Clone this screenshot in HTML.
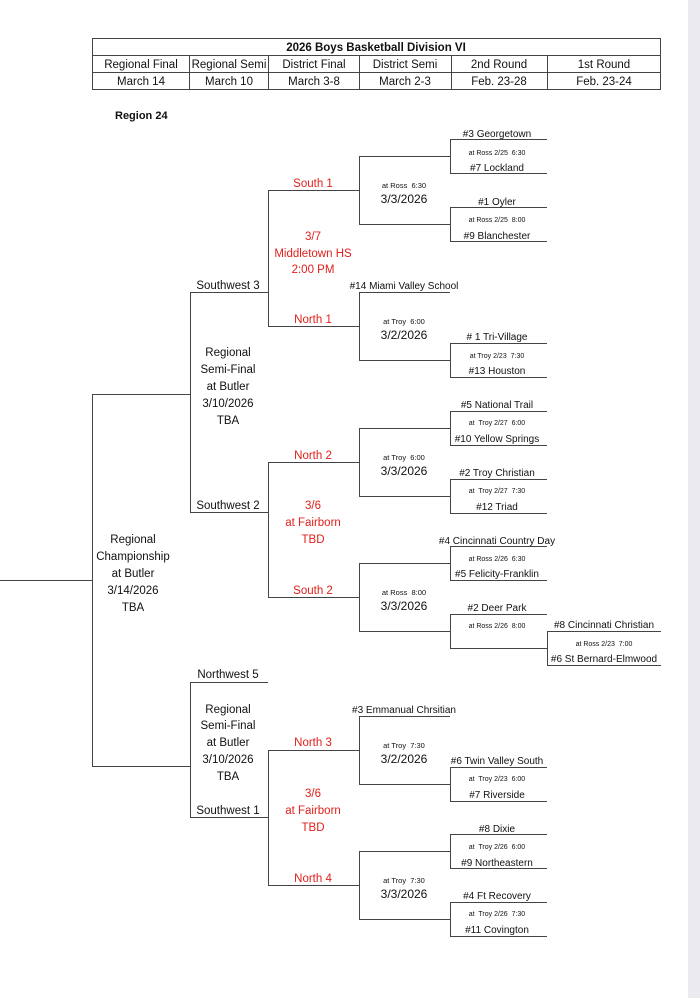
<!DOCTYPE html>
<html><head><meta charset="utf-8"><style>
html,body{margin:0;padding:0;background:#fff;}
svg{display:block;}
text{font-family:"Liberation Sans",sans-serif;fill:#111;white-space:pre;}
.t{font-size:10px;text-anchor:middle;}
.s{font-size:7px;text-anchor:middle;}
.d{font-size:12px;text-anchor:middle;}
.r{font-size:11.5px;text-anchor:middle;fill:#e0201c;}
.b{font-size:11.5px;text-anchor:middle;}
.h{font-size:11.5px;text-anchor:middle;}
</style></head><body>
<svg width="700" height="998" viewBox="0 0 700 998" xmlns="http://www.w3.org/2000/svg" xml:space="preserve">
<rect x="688" y="0" width="12" height="998" fill="#ebebef"/>
<g stroke="#444" stroke-width="1" fill="none">
<rect x="92.5" y="38.5" width="568" height="51"/>
<line x1="92" y1="55.5" x2="661" y2="55.5"/>
<line x1="92" y1="72.5" x2="661" y2="72.5"/>
<line x1="189.5" y1="55" x2="189.5" y2="89"/>
<line x1="268.5" y1="55" x2="268.5" y2="89"/>
<line x1="359.5" y1="55" x2="359.5" y2="89"/>
<line x1="451.5" y1="55" x2="451.5" y2="89"/>
<line x1="547.5" y1="55" x2="547.5" y2="89"/>
<line x1="0" y1="580.5" x2="92" y2="580.5"/>
<line x1="92.5" y1="394" x2="92.5" y2="767"/>
<line x1="92" y1="394.5" x2="190" y2="394.5"/>
<line x1="92" y1="766.5" x2="190" y2="766.5"/>
<line x1="190.5" y1="292" x2="190.5" y2="513"/>
<line x1="190" y1="292.5" x2="268" y2="292.5"/>
<line x1="190" y1="512.5" x2="268" y2="512.5"/>
<line x1="190.5" y1="682" x2="190.5" y2="818"/>
<line x1="190" y1="682.5" x2="268" y2="682.5"/>
<line x1="190" y1="817.5" x2="268" y2="817.5"/>
<line x1="268.5" y1="190" x2="268.5" y2="327"/>
<line x1="268" y1="190.5" x2="359" y2="190.5"/>
<line x1="268" y1="326.5" x2="359" y2="326.5"/>
<line x1="268.5" y1="462" x2="268.5" y2="598"/>
<line x1="268" y1="462.5" x2="359" y2="462.5"/>
<line x1="268" y1="597.5" x2="359" y2="597.5"/>
<line x1="268.5" y1="750" x2="268.5" y2="886"/>
<line x1="268" y1="750.5" x2="359" y2="750.5"/>
<line x1="268" y1="885.5" x2="359" y2="885.5"/>
<line x1="359.5" y1="156" x2="359.5" y2="225"/>
<line x1="359" y1="156.5" x2="450" y2="156.5"/>
<line x1="359" y1="224.5" x2="450" y2="224.5"/>
<line x1="359.5" y1="292" x2="359.5" y2="361"/>
<line x1="359" y1="292.5" x2="450" y2="292.5"/>
<line x1="359" y1="360.5" x2="450" y2="360.5"/>
<line x1="359.5" y1="428" x2="359.5" y2="497"/>
<line x1="359" y1="428.5" x2="450" y2="428.5"/>
<line x1="359" y1="496.5" x2="450" y2="496.5"/>
<line x1="359.5" y1="563" x2="359.5" y2="632"/>
<line x1="359" y1="563.5" x2="450" y2="563.5"/>
<line x1="359" y1="631.5" x2="450" y2="631.5"/>
<line x1="359.5" y1="716" x2="359.5" y2="785"/>
<line x1="359" y1="716.5" x2="450" y2="716.5"/>
<line x1="359" y1="784.5" x2="450" y2="784.5"/>
<line x1="359.5" y1="851" x2="359.5" y2="920"/>
<line x1="359" y1="851.5" x2="450" y2="851.5"/>
<line x1="359" y1="919.5" x2="450" y2="919.5"/>
<path d="M547 139.5H450.5V173.5H547"/>
<path d="M547 207.5H450.5V241.5H547"/>
<path d="M547 343.5H450.5V377.5H547"/>
<path d="M547 411.5H450.5V445.5H547"/>
<path d="M547 479.5H450.5V513.5H547"/>
<path d="M547 546.5H450.5V580.5H547"/>
<path d="M547 614.5H450.5V648.5H547"/>
<path d="M661 631.5H547.5V665.5H661"/>
<path d="M547 767.5H450.5V801.5H547"/>
<path d="M547 834.5H450.5V868.5H547"/>
<path d="M547 902.5H450.5V936.5H547"/>
</g>
<text x="376" y="51" class="h" font-weight="bold">2026 Boys Basketball Division VI</text>
<text x="141" y="68" class="h">Regional Final</text>
<text x="229" y="68" class="h">Regional Semi</text>
<text x="314" y="68" class="h">District Final</text>
<text x="405" y="68" class="h">District Semi</text>
<text x="499" y="68" class="h">2nd Round</text>
<text x="604" y="68" class="h">1st Round</text>
<text x="141" y="85" class="h">March 14</text>
<text x="229" y="85" class="h">March 10</text>
<text x="314" y="85" class="h">March 3-8</text>
<text x="405" y="85" class="h">March 2-3</text>
<text x="499" y="85" class="h">Feb. 23-28</text>
<text x="604" y="85" class="h">Feb. 23-24</text>
<text x="115" y="119" style="font-size:11px;font-weight:bold">Region 24</text>

<text x="497" y="137" class="t">#3 Georgetown</text>
<text x="497" y="155" class="s">at Ross 2/25  6:30</text>
<text x="497" y="171" class="t">#7 Lockland</text>
<text x="497" y="205" class="t">#1 Oyler</text>
<text x="497" y="222" class="s">at Ross 2/25  8:00</text>
<text x="497" y="239" class="t">#9 Blanchester</text>
<text x="313" y="187" class="r">South 1</text>
<text x="404" y="188" class="s" style="font-size:7.5px">at Ross  6:30</text>
<text x="404" y="203" class="d">3/3/2026</text>
<text x="313" y="240" class="r">3/7</text>
<text x="313" y="257" class="r">Middletown HS</text>
<text x="313" y="273" class="r">2:00 PM</text>
<text x="228" y="289" class="b">Southwest 3</text>
<text x="404" y="289" class="t">#14 Miami Valley School</text>
<text x="313" y="323" class="r">North 1</text>
<text x="404" y="324" class="s" style="font-size:7.5px">at Troy  6:00</text>
<text x="404" y="339" class="d">3/2/2026</text>
<text x="497" y="340" class="t"># 1 Tri-Village</text>
<text x="497" y="358" class="s">at Troy 2/23  7:30</text>
<text x="497" y="374" class="t">#13 Houston</text>
<text x="228" y="356" class="b">Regional</text>
<text x="228" y="373" class="b">Semi-Final</text>
<text x="228" y="390" class="b">at Butler</text>
<text x="228" y="407" class="b">3/10/2026</text>
<text x="228" y="424" class="b">TBA</text>
<text x="497" y="408" class="t">#5 National Trail</text>
<text x="497" y="425" class="s">at  Troy 2/27  6:00</text>
<text x="497" y="442" class="t">#10 Yellow Springs</text>
<text x="313" y="459" class="r">North 2</text>
<text x="404" y="460" class="s" style="font-size:7.5px">at Troy  6:00</text>
<text x="404" y="475" class="d">3/3/2026</text>
<text x="497" y="476" class="t">#2 Troy Christian</text>
<text x="497" y="493" class="s">at  Troy 2/27  7:30</text>
<text x="497" y="510" class="t">#12 Triad</text>
<text x="228" y="509" class="b">Southwest 2</text>
<text x="313" y="509" class="r">3/6</text>
<text x="313" y="526" class="r">at Fairborn</text>
<text x="313" y="543" class="r">TBD</text>
<text x="497" y="544" class="t">#4 Cincinnati Country Day</text>
<text x="497" y="561" class="s">at Ross 2/26  6:30</text>
<text x="497" y="577" class="t">#5 Felicity-Franklin</text>
<text x="313" y="594" class="r">South 2</text>
<text x="404" y="595" class="s" style="font-size:7.5px">at Ross  8:00</text>
<text x="404" y="610" class="d">3/3/2026</text>
<text x="497" y="611" class="t">#2 Deer Park</text>
<text x="497" y="628" class="s">at Ross 2/26  8:00</text>
<text x="604" y="628" class="t">#8 Cincinnati Christian</text>
<text x="604" y="646" class="s">at Ross 2/23  7:00</text>
<text x="604" y="662" class="t">#6 St Bernard-Elmwood</text>
<text x="133" y="543" class="b">Regional</text>
<text x="133" y="560" class="b">Championship</text>
<text x="133" y="577" class="b">at Butler</text>
<text x="133" y="594" class="b">3/14/2026</text>
<text x="133" y="611" class="b">TBA</text>
<text x="228" y="678" class="b">Northwest 5</text>
<text x="228" y="713" class="b">Regional</text>
<text x="228" y="729" class="b">Semi-Final</text>
<text x="228" y="746" class="b">at Butler</text>
<text x="228" y="763" class="b">3/10/2026</text>
<text x="228" y="780" class="b">TBA</text>
<text x="404" y="713" class="t">#3 Emmanual Chrsitian</text>
<text x="313" y="746" class="r">North 3</text>
<text x="404" y="748" class="s" style="font-size:7.5px">at Troy  7:30</text>
<text x="404" y="763" class="d">3/2/2026</text>
<text x="497" y="764" class="t">#6 Twin Valley South</text>
<text x="497" y="781" class="s">at  Troy 2/23  6:00</text>
<text x="497" y="798" class="t">#7 Riverside</text>
<text x="313" y="797" class="r">3/6</text>
<text x="313" y="814" class="r">at Fairborn</text>
<text x="313" y="831" class="r">TBD</text>
<text x="228" y="814" class="b">Southwest 1</text>
<text x="497" y="832" class="t">#8 Dixie</text>
<text x="497" y="849" class="s">at  Troy 2/26  6:00</text>
<text x="497" y="866" class="t">#9 Northeastern</text>
<text x="313" y="882" class="r">North 4</text>
<text x="404" y="883" class="s" style="font-size:7.5px">at Troy  7:30</text>
<text x="404" y="898" class="d">3/3/2026</text>
<text x="497" y="899" class="t">#4 Ft Recovery</text>
<text x="497" y="916" class="s">at  Troy 2/26  7:30</text>
<text x="497" y="933" class="t">#11 Covington</text>
</svg>
</body></html>
